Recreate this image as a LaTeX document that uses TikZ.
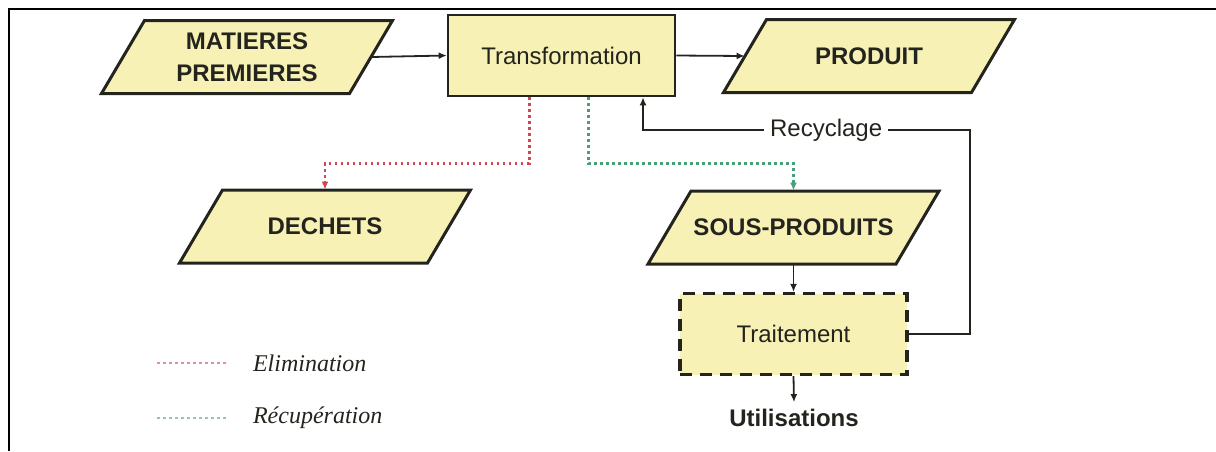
\documentclass[tikz,border=0pt]{standalone}
\usepackage{fontspec}
\setmainfont{Liberation Sans}
\newfontfamily\legendfont{Liberation Serif}
\usetikzlibrary{
  arrows.meta,
  calc,
  positioning,
}
\definecolor{boxfill}{RGB}{248,241,182}
\definecolor{inkgrey}{RGB}{36,36,30}
\definecolor{elimred}{RGB}{205,72,82}
\definecolor{recupgreen}{RGB}{72,160,122}
\tikzset{
  >={Latex[length=4pt,width=3.5pt]},
  databox/.style={draw=inkgrey, line width=1.5pt, fill=boxfill, line join=miter},
  datatext/.style={rectangle, minimum width=124pt, minimum height=36.5pt,
    inner sep=1pt, font=\fontsize{12}{16}\selectfont\bfseries, text=inkgrey,
    align=center},
  process/.style={rectangle, draw=inkgrey, line width=1.3pt, fill=boxfill,
    minimum width=113.5pt, minimum height=40.5pt,
    font=\fontsize{12}{14}\selectfont, text=inkgrey},
  flow/.style={->, draw=inkgrey, line width=0.9pt},
  elim/.style={draw=elimred, line width=1.3pt, dash pattern=on 1.3pt off 1.7pt},
  recup/.style={draw=recupgreen, line width=1.3pt, dash pattern=on 1.3pt off 1.7pt},
  legend/.style={font=\legendfont\itshape\fontsize{12}{14}\selectfont,
    text=inkgrey, anchor=west},
}
% parallelogram data box: name, centre, text
\newcommand\datanode[3]{%
  \draw[databox] ($(#2)+(-102.5,-36.5)$) -- ++(248,0) -- ++(-43,73)
    -- ++(-248,0) -- cycle;
  \node[datatext] (#1) at (#2) {#3};
}
\begin{document}
\begin{tikzpicture}[x=0.5pt, y=-0.5pt]
  \useasboundingbox (0,0) rectangle (1216,451);
  % frame
  \draw[line width=1.2pt] (9,451) -- (9,9) -- (1216,9);

  % main chain
  \datanode{mp}{247,57}{MATIERES\\PREMIERES}
  \node[process] (tr) at (561.5,55.5) {Transformation};
  \datanode{prod}{869,56}{PRODUIT}

  % outputs
  \datanode{dech}{325,226.5}{DECHETS}
  \datanode{sous}{793.5,227.5}{SOUS-PRODUITS}
  \node[process, line width=1.6pt, dash pattern=on 6pt off 4pt] (trt) at (793.5,334) {Traitement};
  \node[font=\fontsize{12}{14}\selectfont\bfseries, text=inkgrey] (util) at (794,418) {Utilisations};

  \coordinate (elimout) at ($(tr.south west)!.36!(tr.south east)$);
  \coordinate (recupout) at ($(tr.south west)!.617!(tr.south east)$);
  \coordinate (recyin) at ($(tr.south west)!.855!(tr.south east)$);
  \coordinate (recyturn) at (970,130);

  \draw[flow] (mp.east) -- (tr.west);
  \draw[flow] (tr.east) -- (prod.west);
  \draw[elim,->] (elimout) -- ++(0,66) -| (dech.north);
  \draw[recup,->] (recupout) -- ++(0,66) -| (sous.north);
  \draw[flow] (sous.south) -- (trt.north);
  \draw[flow] (trt.south) -- (util.north);
  \draw[flow] (trt.east) -| (recyturn)
    -- node[pos=.44, fill=white, inner sep=3pt, text=inkgrey,
            font=\fontsize{12}{14}\selectfont] {Recyclage} (recyturn -| recyin)
    -- (recyin);

  % legend
  \node[legend] (legelim) at (246,363) {Elimination};
  \node[legend] (legrecup) at (246,418) {Récupération};
  \draw[elim, opacity=.6] ([xshift=-10pt]legelim.west) -- ++(-70,0);
  \draw[recup, opacity=.6] ([xshift=-10pt]legrecup.west) -- ++(-70,0);
\end{tikzpicture}
\end{document}
